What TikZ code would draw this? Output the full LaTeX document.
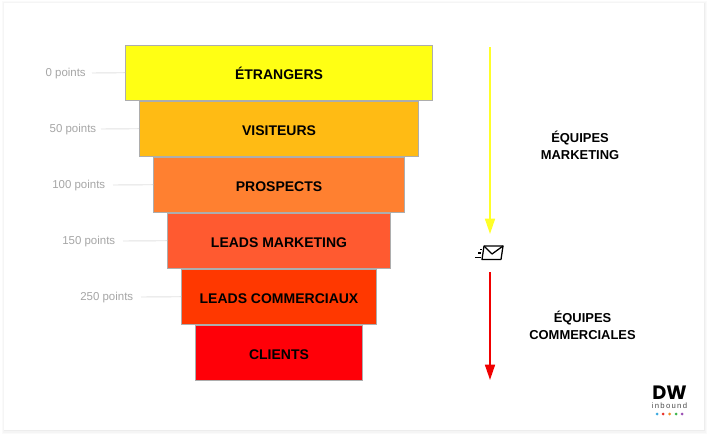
\documentclass[tikz,border=0pt]{standalone}
\usepackage{fontspec}
\setmainfont{Liberation Sans}
\newfontfamily\logofont{Poppins}[BoldFont={* Bold}]
\usetikzlibrary{arrows.meta}
\definecolor{edgeg}{HTML}{ADADAD}
\definecolor{ptg}{HTML}{A6A6A6}
\definecolor{lineg}{HTML}{E2E2E2}
\tikzset{
  lvl/.style={draw=edgeg,line width=0.7pt,minimum height=40.9pt,inner sep=0pt,text height=10.4pt,text depth=0pt,font=\bfseries\fontsize{10.5}{12}\selectfont,text=black,anchor=center},
  pts/.style={font=\fontsize{8.6}{10}\selectfont,text=ptg,anchor=east,inner sep=0pt},
  tick/.style={draw=lineg,line width=0.7pt},
  team/.style={font=\bfseries\fontsize{9.7}{12.9}\selectfont,align=center,text=black,inner sep=0pt},
  flow/.style={line width=1.5pt,-{Triangle[length=11.5pt,width=7.4pt]}},
}
\begin{document}
\begin{tikzpicture}[x=0.75pt,y=-0.75pt]
\useasboundingbox (0,0) rectangle (709,436);
\fill[white] (0,0) rectangle (709,436);
\fill[black!2] (2,1) rectangle (707,434);
\fill[black!4] (3,2) rectangle (706,432.5);
\fill[black!7] (3.5,2.5) rectangle (705,431);
\fill[white] (4,3) rectangle (704,430);
\node[lvl,fill={rgb,255:red,255;green,255;blue,20},minimum width=230.3pt] (a) at (279,72.7) {ÉTRANGERS};
\node[lvl,fill={rgb,255:red,255;green,187;blue,20},minimum width=209.3pt] (b) at (279,128.7) {VISITEURS};
\node[lvl,fill={rgb,255:red,255;green,128;blue,48},minimum width=188.3pt] (c) at (279,184.7) {PROSPECTS};
\node[lvl,fill={rgb,255:red,255;green,90;blue,48},minimum width=167.3pt] (d) at (279,240.7) {LEADS MARKETING};
\node[lvl,fill={rgb,255:red,255;green,56;blue,0},minimum width=146.3pt] (e) at (279,296.7) {LEADS COMMERCIAUX};
\node[lvl,fill={rgb,255:red,255;green,0;blue,8},minimum width=125.3pt] (f) at (279,352.7) {CLIENTS};
\node[pts] (pa) at (86,74) {0 points};
\node[pts] (pb) at (96.5,130) {50 points};
\node[pts] (pc) at (105.5,186) {100 points};
\node[pts] (pd) at (115.5,242) {150 points};
\node[pts] (pe) at (133.5,298) {250 points};
\draw[tick] (92,73) -- (a.west);
\draw[tick] (101,129) -- (b.west);
\draw[tick] (113,185) -- (c.west);
\draw[tick] (123,241) -- (d.west);
\draw[tick] (141,297) -- (e.west);
\coordinate (y1) at (490,47);
\coordinate (y2) at (490,234);
\coordinate (r1) at (490,272);
\coordinate (r2) at (490,380);
\draw[flow,color={rgb,255:red,255;green,255;blue,40}] (y1) -- (y2);
\draw[flow,color={rgb,255:red,240;green,0;blue,0}] (r1) -- (r2);
\node[team] (t1) at (580,145) {ÉQUIPES\\MARKETING};
\node[team] (t2) at (582.5,325) {ÉQUIPES\\COMMERCIALES};
% envelope
\draw[line width=0.95pt,line join=round,black] (484,246) -- (503,246) -- (501,259.5) -- (482,259.5) -- cycle;
\draw[line width=0.95pt,line join=round,black] (484,246) -- (492,254) -- (503,246);
\draw[line width=0.8pt,black] (480,249.5) -- (482,249.5) (478,253) -- (481,253) (475,257.5) -- (480.5,257.5);
% logo
\node[font=\logofont\bfseries\fontsize{14.5}{16}\selectfont,inner sep=0pt,text height=10pt,text depth=0pt] (dw) at (669.5,392.5) {DW};
\node[font=\fontsize{5.8}{7}\selectfont,text=black!70,inner sep=0pt,text height=4.3pt,text depth=0pt] (ib) at (669.5,406) {i\,n\,b\,o\,u\,n\,d};
\foreach \x/\c in {657/3BA9E0,663/E8312A,669.5/F08A24,676/3CB54A,682/9B4FB5}{\definecolor{dotc}{HTML}{\c}\fill[dotc] (\x,414) circle (1.5);}
\end{tikzpicture}
\end{document}
